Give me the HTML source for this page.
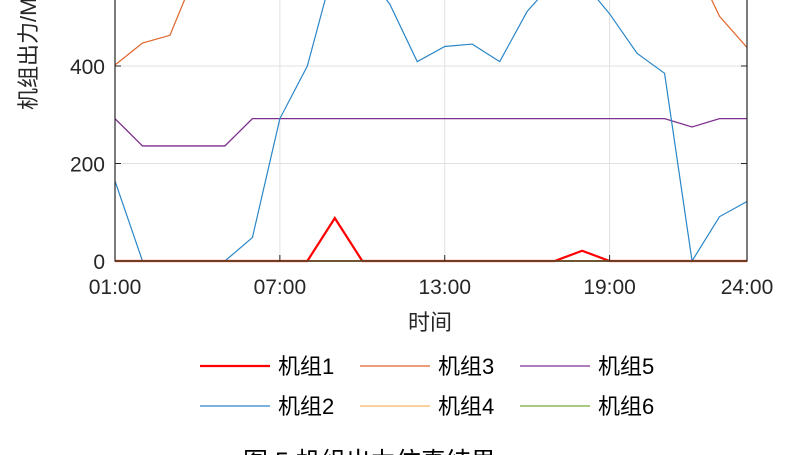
<!DOCTYPE html>
<html><head><meta charset="utf-8"><style>
html,body{margin:0;padding:0;background:#fff;overflow:hidden}
svg{display:block;font-family:"Liberation Sans","Noto Sans CJK SC",sans-serif}
</style></head><body>
<svg id="chart" width="808" height="455" viewBox="0 0 808 455"></svg>
<script>
const hours = [1,2,3,4,5,6,7,8,9,10,11,12,13,14,15,16,17,18,19,20,21,22,23,24];
const unit1 = [0,0,0,0,0,0,0,0,88,0,0,0,0,0,0,0,0,21,0,0,0,0,0,0];
const unit2 = [164,0,0,0,0,48,292,400,610,600,527,409,440,445,409,512,575,575,507,426,385,0,91,122];
const unit3 = [402,447,463,600,650,650,650,650,650,650,650,650,650,650,650,650,650,650,650,650,650,620,502,438];
const unit4 = [0,0,0,0,0,0,0,0,0,0,0,0,0,0,0,0,0,0,0,0,0,0,0,0];
const unit5 = [292,236,236,236,236,292,292,292,292,292,292,292,292,292,292,292,292,292,292,292,292,275,292,292];
const unit6 = [0,0,0,0,0,0,0,0,0,0,0,0,0,0,0,0,0,0,0,0,0,0,0,0];
const xTicks = [1,7,13,19,24];
const xTickLabels = ["01:00","07:00","13:00","19:00","24:00"];
const yTicks = [0,200,400,600];
const NS="http://www.w3.org/2000/svg";
const svgEl=document.getElementById('chart');
const L=115,R=747,Y0=261,K=0.4875;
const xs=h=>L+(h-1)*(R-L)/23;
const ys=v=>Y0-v*K;
function mk(t,a,p){const e=document.createElementNS(NS,t);for(const k in a)e.setAttribute(k,a[k]);(p||svgEl).appendChild(e);return e;}
const yTop=ys(700);
xTicks.slice(1,-1).forEach(h=>{const g=mk('line',{x1:xs(h),x2:xs(h),y1:yTop,y2:Y0,stroke:'#e0e0e0','stroke-width':1});

});
yTicks.slice(1).forEach(v=>{const g=mk('line',{x1:L,x2:R,y1:ys(v),y2:ys(v),stroke:'#e0e0e0','stroke-width':1});

});
const series=[[unit6,'#77ac30',1.2,'series-unit6'],[unit5,'#7e2f8e',1.3,'series-unit5'],[unit2,'#2a86c8',1.2,'series-unit2'],[unit3,'#e0642a',1.2,'series-unit3'],[unit1,'#ff0000',2.2,'series-unit1'],[unit4,'#f08a1c',1.8,'series-unit4']];
series.forEach(s=>{const p=mk('polyline',{points:hours.map((h,i)=>xs(h)+','+ys(s[0][i])).join(' '),fill:'none',stroke:s[1],'stroke-width':s[2]});

});
const ax=mk('path',{d:`M${L},${yTop}V${Y0}H${R}V${yTop}`,fill:'none',stroke:'#262626','stroke-width':1.2});


xTicks.forEach((h,i)=>{mk('line',{x1:xs(h),x2:xs(h),y1:Y0,y2:Y0-6,stroke:'#262626'});
const t=mk('text',{x:xs(h),y:294,'text-anchor':'middle','font-size':21,fill:'#262626'});t.textContent=xTickLabels[i];

});
yTicks.forEach(v=>{mk('line',{x1:L,x2:L+6,y1:ys(v),y2:ys(v),stroke:'#262626'});mk('line',{x1:R,x2:R-6,y1:ys(v),y2:ys(v),stroke:'#262626'});
const t=mk('text',{x:L-10,y:ys(v)+8,'text-anchor':'end','font-size':21,fill:'#262626'});t.textContent=v;

});
const yl=mk('text',{x:0,y:0,transform:'translate(36,110) rotate(-90)','font-size':22,fill:'#262626'});yl.textContent='机组出力/MW';


const xl=mk('text',{x:430,y:330,'text-anchor':'middle','font-size':22,fill:'#262626'});xl.textContent='时间';


const leg=[['机组1','#ff0000',2.2,200,366],['机组3','#e0642a',1.2,360,366],['机组5','#7e2f8e',1.2,520,366],['机组2','#2a86c8',1.2,200,406],['机组4','#f5b860',1.2,360,406],['机组6','#77ac30',1.2,520,406]];
leg.forEach(l=>{const g=mk('g',{});


mk('line',{x1:l[3],x2:l[3]+70,y1:l[4],y2:l[4],stroke:l[1],'stroke-width':l[2]},g);
const t=mk('text',{x:l[3]+78,y:l[4]+8,'font-size':22,fill:'#000'},g);t.textContent=l[0];});
const cap=mk('text',{x:243,y:470,'font-size':25,fill:'#000'});cap.textContent='图 5  机组出力仿真结果';


</script>
</body></html>
